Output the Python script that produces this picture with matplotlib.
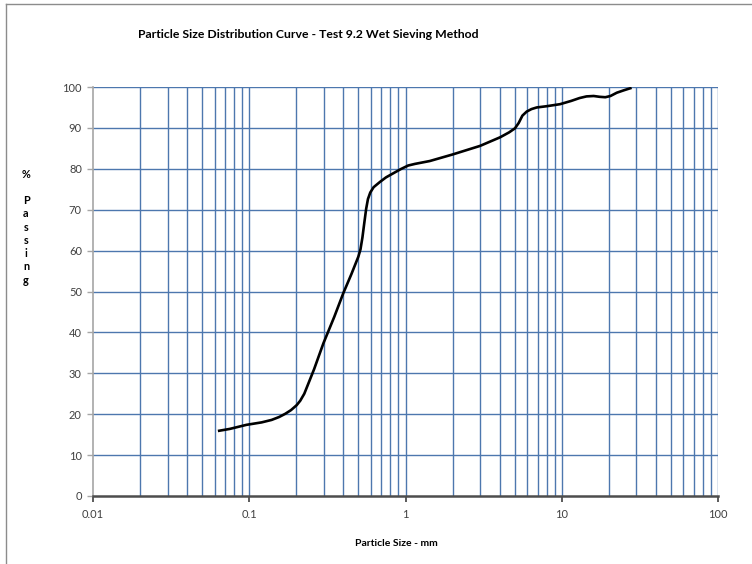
import numpy as np
import matplotlib.pyplot as plt
from matplotlib.lines import Line2D
from matplotlib.ticker import FixedLocator, NullFormatter, NullLocator

# ─── Data ─────────────────────────────────────────────────────────────────────
SIZE_MM = [0.063, 0.075, 0.096, 0.12, 0.139, 0.155, 0.17, 0.185, 0.201,
           0.212, 0.225, 0.239, 0.26, 0.298, 0.35, 0.40, 0.45, 0.499,
           0.515, 0.53, 0.545, 0.56, 0.575, 0.595, 0.625, 0.687, 0.75,
           0.835, 0.93, 1.04, 1.15, 1.43, 2.0, 3.0, 4.03, 4.6, 5.02,
           5.3, 5.6, 5.97, 6.4, 6.92, 8.0, 9.75, 11.5, 13.0, 14.4, 16.0,
           17.5, 19.0, 20.5, 22.5, 25.0, 28.0]
PASSING = [15.9, 16.4, 17.4, 18.0, 18.6, 19.3, 20.1, 21.0, 22.2,
           23.3, 25.0, 27.5, 31.0, 37.3, 43.8, 49.6, 54.2, 58.5,
           60.3, 63.2, 66.8, 70.2, 72.6, 74.2, 75.5, 76.8, 77.9,
           78.9, 79.9, 80.8, 81.2, 81.9, 83.5, 85.6, 87.7, 88.9, 89.9,
           91.2, 93.0, 94.0, 94.6, 95.0, 95.3, 95.8, 96.6, 97.3, 97.7, 97.8,
           97.6, 97.5, 97.8, 98.6, 99.2, 99.8]

X_MAJOR = [0.01, 0.1, 1, 10, 100]
X_LABELS = ["0.01", "0.1", "1", "10", "100"]
Y_TICKS = [0, 10, 20, 30, 40, 50, 60, 70, 80, 90, 100]

TITLE = "Particle Size Distribution Curve - Test 9.2 Wet Sieving Method"
XLABEL = "Particle Size - mm"
YLABEL = "%\n\nP\na\ns\ns\ni\nn\ng"

GRID_BLUE = "#4d77ae"

plt.rcParams["font.family"] = ["Lato", "DejaVu Sans"]

fig = plt.figure(figsize=(7.52, 5.64), dpi=100)
ax = fig.add_axes([93 / 752, 1 - 496 / 564, (718 - 93) / 752, (496 - 87) / 564])

ax.set_xscale("log")
ax.set_xlim(0.01, 100)
ax.set_ylim(0, 100)

# vertical grid at every log subdivision, horizontal every 10
minor_x = [m * 10.0 ** e for e in range(-2, 2) for m in range(2, 10)]
for xv in minor_x + X_MAJOR[1:]:
    ax.axvline(xv, color=GRID_BLUE, lw=1.0, zorder=1)
for yv in Y_TICKS[1:]:
    ax.axhline(yv, color=GRID_BLUE, lw=1.0, zorder=1)

ax.plot(SIZE_MM, PASSING, color="black", lw=1.9, zorder=3,
        solid_capstyle="butt", solid_joinstyle="round")

ax.xaxis.set_major_locator(FixedLocator(X_MAJOR))
ax.set_xticklabels(X_LABELS)
ax.xaxis.set_minor_locator(NullLocator())
ax.xaxis.set_minor_formatter(NullFormatter())
ax.set_yticks(Y_TICKS)

for s in ["top", "right"]:
    ax.spines[s].set_visible(False)
ax.spines["left"].set_color("#a6a6a6")
ax.spines["left"].set_linewidth(1.2)
ax.spines["bottom"].set_color("#4d4d4d")
ax.spines["bottom"].set_linewidth(1.8)
ax.spines["bottom"].set_zorder(4)

ax.tick_params(axis="x", direction="out", length=4, width=1.2,
               color="#404040", labelsize=8, labelcolor="#404040", pad=5)
ax.tick_params(axis="y", direction="out", length=4, width=1.0,
               color="#a6a6a6", labelsize=8, labelcolor="#404040", pad=4)

fig.text(138 / 752, 1 - 35 / 564, TITLE, fontsize=8.8, fontweight="bold",
         ha="left", va="center")
fig.text(396 / 752, 1 - 543 / 564, XLABEL, fontsize=7.5, fontweight="bold",
         ha="center", va="center")
fig.text(26 / 752, 1 - 227 / 564, YLABEL, fontsize=7.8, fontweight="bold",
         ha="center", va="center", linespacing=1.25)

# figure frame (top and left edges visible in the reference)
fig.add_artist(Line2D([6 / 752, 1.0], [1 - 4 / 564, 1 - 4 / 564],
                      transform=fig.transFigure, color="#8c8c8c", lw=1.0))
fig.add_artist(Line2D([6 / 752, 6 / 752], [0.0, 1 - 4 / 564],
                      transform=fig.transFigure, color="#8c8c8c", lw=1.0))

fig.savefig("out.png", dpi=100)
